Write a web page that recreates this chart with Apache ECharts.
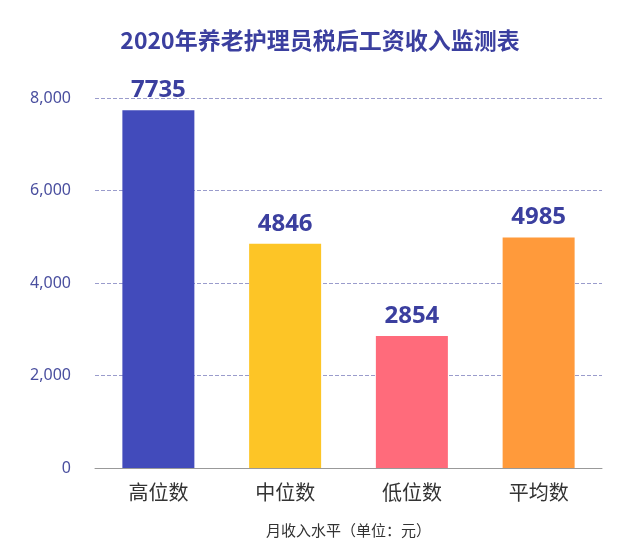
<!DOCTYPE html>
<html><head><meta charset="utf-8">
<script src="https://cdn.jsdelivr.net/npm/echarts@6/dist/echarts.min.js"></script>
<style>html,body{margin:0;padding:0;background:#fff}#c{width:640px;height:558px}</style>
</head><body><div id="c"></div>
<script>
const categories = ['高位数','中位数','低位数','平均数'];
const values = [7735, 4846, 2854, 4985];
const colors = ['#424bbb','#fdc526','#ff6b7b','#ff9a3b'];
const chart = echarts.init(document.getElementById('c'));
chart.setOption({
  animation:false,
  title:{text:'2020年养老护理员税后工资收入监测表',left:'center',top:24,
    textStyle:{fontFamily:'Noto Sans CJK SC',fontSize:23,fontWeight:'bold',color:'#3b3f9f'}},
  grid:{left:95,right:38,top:98,bottom:90},
  xAxis:{type:'category',data:categories,
    axisLine:{lineStyle:{color:'#999'}},axisTick:{show:false},
    axisLabel:{fontFamily:'Noto Sans CJK SC',fontSize:20,color:'#333',margin:14},
    name:'月收入水平（单位：元）',nameLocation:'middle',nameGap:55,
    nameTextStyle:{fontFamily:'Noto Sans CJK SC',fontSize:15,color:'#333'}},
  yAxis:{type:'value',min:0,max:8000,interval:2000,
    axisLabel:{fontFamily:'Noto Sans',fontSize:16,color:'#4a4f9f',margin:24},
    splitLine:{lineStyle:{type:'dashed',color:'#9a9ccc'}}},
  series:[{type:'bar',barWidth:72,
    data:values.map((v,i)=>({value:v,itemStyle:{color:colors[i]}})),
    label:{show:true,position:'top',distance:8,fontFamily:'Noto Sans',fontSize:24,fontWeight:'bold',color:'#3b3f9f'}}]
});
</script></body></html>
